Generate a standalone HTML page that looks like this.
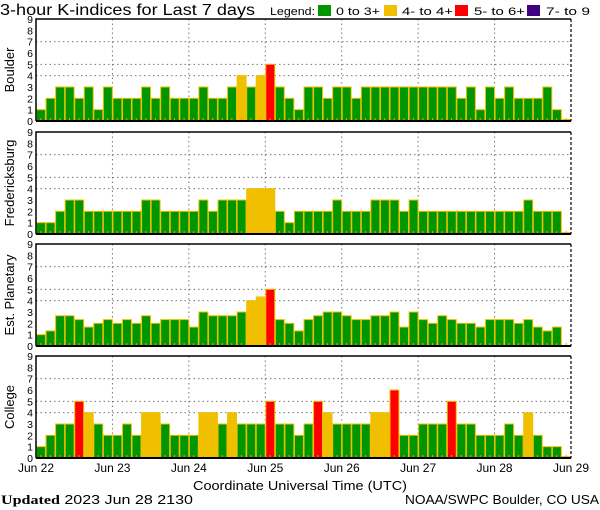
<!DOCTYPE html>
<html><head><meta charset="utf-8"><style>
body{margin:0;background:#fff;width:600px;height:510px;overflow:hidden}
svg{display:block}
text{font-family:"Liberation Sans",sans-serif;fill:#000}
</style></head><body>
<svg id="c" width="600" height="510" xmlns="http://www.w3.org/2000/svg">
<text x="0" y="15" font-size="16" textLength="255" lengthAdjust="spacingAndGlyphs">3-hour K-indices for Last 7 days</text>
<g font-size="11">
<text x="270" y="15" textLength="45" lengthAdjust="spacingAndGlyphs">Legend:</text>
<rect x="318" y="5" width="13" height="11" fill="#009600"/>
<text x="336" y="15" textLength="44" lengthAdjust="spacingAndGlyphs">0 to 3+</text>
<rect x="384" y="5" width="13" height="11" fill="#f0c000"/>
<text x="402" y="15" textLength="51" lengthAdjust="spacingAndGlyphs">4- to 4+</text>
<rect x="455" y="5" width="13" height="11" fill="#ff0000"/>
<text x="474" y="15" textLength="51" lengthAdjust="spacingAndGlyphs">5- to 6+</text>
<rect x="527" y="5" width="13" height="11" fill="#400080"/>
<text x="546" y="15" textLength="44" lengthAdjust="spacingAndGlyphs">7- to 9</text>
</g>
<text x="193" y="490" font-size="13" textLength="214" lengthAdjust="spacingAndGlyphs">Coordinate Universal Time (UTC)</text>
<text x="1" y="504" font-size="13" textLength="192" lengthAdjust="spacingAndGlyphs"><tspan font-family="Liberation Serif" font-weight="bold">Updated</tspan> 2023 Jun 28 2130</text>
<text x="405" y="504" font-size="13" textLength="194" lengthAdjust="spacingAndGlyphs">NOAA/SWPC Boulder, CO USA</text>
</svg>
<script>
const stations = ["Boulder","Fredericksburg","Est. Planetary","College"];
const boulder = [1,2,3,3,2,3,1,3, 2,2,2,3,2,3,2,2, 2,3,2,2,3,4,3,4, 5,3,2,1,3,3,2,3, 3,2,3,3,3,3,3,3, 3,3,3,3,2,3,1,3, 2,3,2,2,2,3,1,0];
const fredericksburg = [1,1,2,3,3,2,2,2, 2,2,2,3,3,2,2,2, 2,3,2,3,3,3,4,4, 4,2,1,2,2,2,2,3, 2,2,2,3,3,3,2,3, 2,2,2,2,2,2,2,2, 2,2,2,3,2,2,2,0];
const planetary = [1,1.33,2.67,2.67,2.33,1.67,2,2.33, 2,2.33,2,2.67,2,2.33,2.33,2.33, 1.67,3,2.67,2.67,2.67,3,4,4.33, 5,2.33,2,1.33,2.33,2.67,3,3, 2.67,2.33,2.33,2.67,2.67,3,1.67,3, 2.33,2,2.67,2.33,2,2,1.67,2.33, 2.33,2.33,2,2.33,1.67,1.33,1.67,null];
const college = [1,2,3,3,5,4,3,2, 2,3,2,4,4,3,2,2, 2,4,4,3,4,3,3,3, 5,3,3,2,3,5,4,3, 3,3,3,4,4,6,2,2, 3,3,3,5,3,3,2,2, 2,3,2,4,2,1,1,0];
const series = [boulder,fredericksburg,planetary,college];
const dayLabels = ["Jun 22","Jun 23","Jun 24","Jun 25","Jun 26","Jun 27","Jun 28","Jun 29"];
const yTicks = [0,1,2,3,4,5,6,7,8,9];
const gridLevels = [4,5,7];

const NS="http://www.w3.org/2000/svg";
const svg=document.getElementById('c');
const X0=36, X1=571, nBars=56;
const panelTops=[19,132,244,356];
const PH=102;
const bw=(X1-X0)/nBars;
function xScale(i){return X0+i*bw;}
function dayX(d){return X0+d*(X1-X0)/7;}
function mk(tag,attrs,parent){const e=document.createElementNS(NS,tag);for(const k in attrs)e.setAttribute(k,attrs[k]);(parent||svg).appendChild(e);return e;}
function col(v){return v>=7?"#400080":v>=5?"#ff0000":v>=4?"#f0c000":"#009600";}

panelTops.forEach((top,p)=>{
  const bottom=top+PH;
  const yScale=v=>bottom-v*PH/9;
  const g=mk('g',{});
  
  
  gridLevels.forEach(l=>{
    const ln=mk('line',{x1:X0,x2:X1,y1:yScale(l),y2:yScale(l),stroke:"#777","stroke-dasharray":"1.5,3"},g);
    
    
  });
  for(let d=1;d<7;d++){
    const ln=mk('line',{x1:dayX(d),x2:dayX(d),y1:top,y2:bottom,stroke:"#777","stroke-dasharray":"1.5,3"},g);
    
    
  }
  series[p].forEach((v,i)=>{
    if(v!==null){
      const h=Math.max(v*PH/9,1.5);
      const r=mk('rect',{x:xScale(i)+0.5,y:bottom-h,width:bw-0.6,height:h,fill:col(v),stroke:"#f0c000","stroke-width":1},g);
      
      
    }
    const t=mk('rect',{x:xScale(i)+bw/2-0.5,y:bottom-3,width:1,height:2,fill:"#f0a000"},g);
    
    
  });
  const fr=mk('path',{d:`M${X0},${bottom}V${top}H${X1}`,stroke:"#000","stroke-width":1.5,fill:"none"},g);
  
  
  const rb=mk('line',{x1:X1,x2:X1,y1:top,y2:bottom,stroke:"#000","stroke-width":1.2,"stroke-dasharray":"3,2"},g);
  
  
  const ax=mk('line',{x1:X0,x2:X1,y1:bottom,y2:bottom,stroke:"#000","stroke-width":2},g);
  
  
  yTicks.forEach(t=>{
    const tx=mk('text',{x:33,y:yScale(t)+4,"font-size":"10.5","text-anchor":"end"},g);
    tx.textContent=t;
    
    
  });
  const lab=mk('text',{x:0,y:0,"font-size":"13","text-anchor":"middle",transform:`translate(14,${top+PH/2}) rotate(-90)`},g);
  lab.textContent=stations[p];
  
  
});
dayLabels.forEach((s,d)=>{
  const t=mk('text',{x:dayX(d),y:472,"font-size":"12","text-anchor":"middle"});
  t.textContent=s;
  
  
});
</script>
</body></html>
